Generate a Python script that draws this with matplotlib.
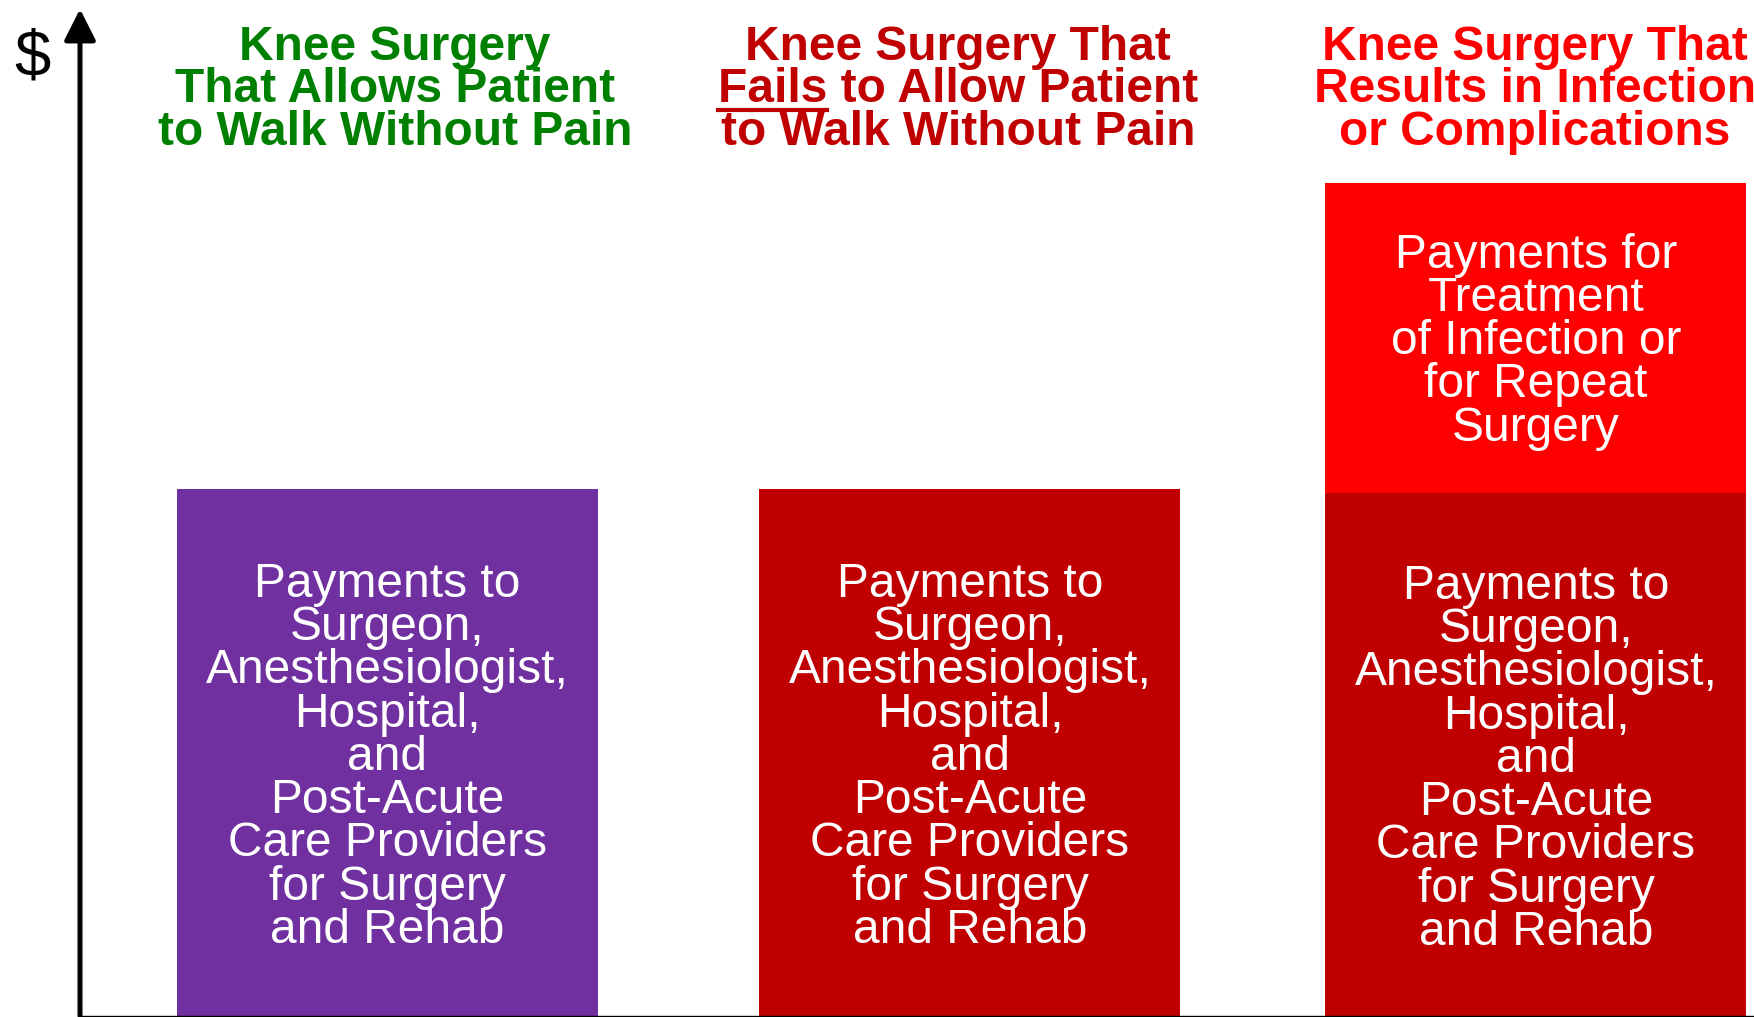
import matplotlib
matplotlib.use('Agg')
import matplotlib.pyplot as plt
from matplotlib.lines import Line2D

plt.rcParams['font.family'] = ['Liberation Sans', 'DejaVu Sans']

# chart content
outcome_titles = [
    ['Knee Surgery', 'That Allows Patient', 'to Walk Without Pain'],
    ['Knee Surgery That', 'Fails to Allow Patient', 'to Walk Without Pain'],
    ['Knee Surgery That', 'Results in Infection', 'or Complications'],
]
title_colors = ['#008000', '#C00000', '#FF0000']
surgery_payments = [1.0, 1.0, 0.992]
complication_payments = [0.0, 0.0, 0.588]
surgery_colors = ['#7030A0', '#C00000', '#C00000']
complication_color = '#FF0000'
surgery_label = ('Payments to\nSurgeon,\nAnesthesiologist,\nHospital,\nand\n'
                 'Post-Acute\nCare Providers\nfor Surgery\nand Rehab')
complication_label = 'Payments for\nTreatment\nof Infection or\nfor Repeat\nSurgery'
underlined_word = 'Fails'

# layout (pixels)
W, H = 1754, 1017
centers = [387.5, 970, 1536]
bar_w = 421
title_x = [395, 958, 1535]
title_baselines = [60, 102.5, 145]

fig = plt.figure(figsize=(W / 100, H / 100), dpi=100)
ax = fig.add_axes([80 / W, 1 / H, 1 - 80 / W, 1007 / H])
ax.set_xlim(80, W)
ax.set_ylim(0, 1.911)

ax.bar(centers, surgery_payments, width=bar_w, color=surgery_colors, linewidth=0)
ax.bar(centers, complication_payments, width=bar_w, bottom=surgery_payments,
       color=complication_color, linewidth=0)

for i in range(3):
    ax.text(centers[i], surgery_payments[i] / 2 - 0.009, surgery_label, ha='center',
            va='center', color='white', fontsize=34.5, linespacing=0.95)
    if complication_payments[i] > 0:
        ax.text(centers[i], surgery_payments[i] + complication_payments[i] / 2 - 0.006,
                complication_label, ha='center', va='center',
                color='white', fontsize=34.5, linespacing=0.95)

# axes: arrow up the left side, plain line along the bottom
for s in ['left', 'top', 'right']:
    ax.spines[s].set_visible(False)
ax.spines['bottom'].set_color('black')
ax.spines['bottom'].set_linewidth(1)
ax.set_xticks([]); ax.set_yticks([])
ax.annotate('', xy=(80, 1.911), xytext=(80, 0), annotation_clip=False,
            arrowprops=dict(arrowstyle='-|>,head_length=0.95,head_width=0.48',
                            mutation_scale=20, color='black', lw=3.6,
                            shrinkA=0, shrinkB=0))
fig.text(32 / W, 1 - 75 / H, '$', ha='center', va='baseline', fontsize=47)

# column titles
title_texts = []
for i, lines in enumerate(outcome_titles):
    row = []
    for j, line in enumerate(lines):
        t = fig.text(title_x[i] / W, 1 - title_baselines[j] / H, line, ha='center',
                     va='baseline', fontsize=34.5, fontweight='bold', color=title_colors[i])
        row.append(t)
    title_texts.append(row)

# underline "Fails" in the middle title
fig.canvas.draw()
r = fig.canvas.get_renderer()
bb = title_texts[1][1].get_window_extent(r)
tmp = fig.text(0, 0, underlined_word, fontsize=34.5, fontweight='bold')
wf = tmp.get_window_extent(r).width
tmp.remove()
uy = (H - title_baselines[1] - 7.5) / H
fig.add_artist(Line2D([bb.x0 / W, (bb.x0 + wf) / W], [uy, uy], transform=fig.transFigure,
                      color=title_colors[1], lw=3))

fig.savefig('out.png', dpi=100)
